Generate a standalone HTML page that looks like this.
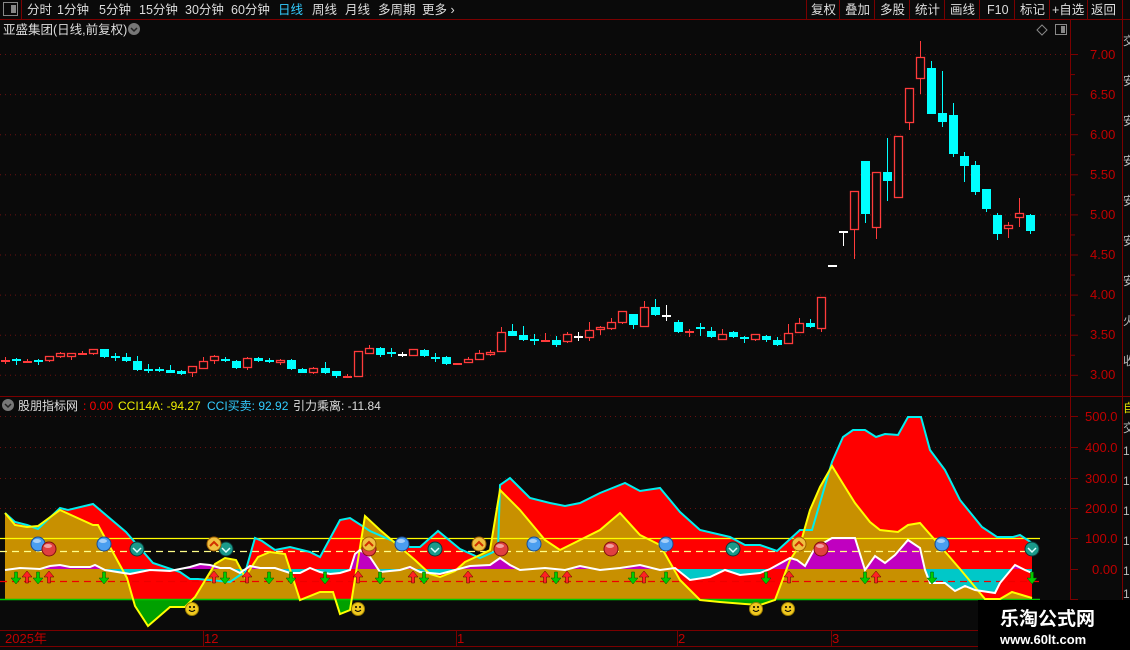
<!DOCTYPE html>
<html><head><meta charset="utf-8"><style>
body{margin:0;background:#0a0a0a;width:1130px;height:650px;overflow:hidden;font-family:"Liberation Sans","Noto Sans CJK SC",sans-serif;}
svg{position:absolute;left:0;top:0}
text{font-family:"Liberation Sans","Noto Sans CJK SC",sans-serif;}
</style></head><body>
<svg id="s" width="1130" height="650" xmlns="http://www.w3.org/2000/svg">
<rect width="1130" height="650" fill="#0a0a0a"/>
<!-- toolbar -->
<line x1="0" y1="19.5" x2="1130" y2="19.5" stroke="#7a0000"/>
<rect x="3.5" y="2.5" width="14" height="13" fill="none" stroke="#888"/>
<rect x="11" y="5" width="5" height="8" fill="#888"/>
<line x1="21.5" y1="0" x2="21.5" y2="19" stroke="#7a0000"/>
<g font-size="12.5" fill="#ddd">
<text x="27" y="14">分时</text><text x="57" y="14">1分钟</text><text x="99" y="14">5分钟</text><text x="139" y="14">15分钟</text><text x="185" y="14">30分钟</text><text x="231" y="14">60分钟</text><text x="278" y="14" fill="#3cf">日线</text><text x="312" y="14">周线</text><text x="345" y="14">月线</text><text x="378" y="14">多周期</text><text x="422" y="14">更多 ›</text>
<text x="811" y="14">复权</text><text x="845" y="14">叠加</text><text x="880" y="14">多股</text><text x="915" y="14">统计</text><text x="950" y="14">画线</text><text x="987" y="14">F10</text><text x="1020" y="14">标记</text><text x="1052" y="14">+自选</text><text x="1091" y="14">返回</text>
</g>
<g stroke="#7a0000"><line x1="806.5" y1="0" x2="806.5" y2="19"/><line x1="839.5" y1="0" x2="839.5" y2="19"/><line x1="874.5" y1="0" x2="874.5" y2="19"/><line x1="909.5" y1="0" x2="909.5" y2="19"/><line x1="944.5" y1="0" x2="944.5" y2="19"/><line x1="979.5" y1="0" x2="979.5" y2="19"/><line x1="1014.5" y1="0" x2="1014.5" y2="19"/><line x1="1049.5" y1="0" x2="1049.5" y2="19"/><line x1="1087.5" y1="0" x2="1087.5" y2="19"/><line x1="1122.5" y1="0" x2="1122.5" y2="19"/></g>
<text x="3" y="34" font-size="12.5" fill="#ddd">亚盛集团(日线,前复权)</text>
<circle cx="134" cy="29" r="6" fill="#777"/><path d="M131 28l3 3 3-3" stroke="#222" fill="none" stroke-width="1.5"/>
<path d="M1042 25l5 5-5 5-5-5z" fill="none" stroke="#888"/>
<rect x="1055.5" y="24.5" width="11" height="10" fill="none" stroke="#888"/><rect x="1061" y="26" width="4" height="7" fill="#888"/>
<!-- axes -->
<line x1="1070.5" y1="20" x2="1070.5" y2="630" stroke="#7a0000"/>
<line x1="1122.5" y1="20" x2="1122.5" y2="650" stroke="#7a0000"/>
<line x1="0" y1="396.5" x2="1130" y2="396.5" stroke="#7a0000"/>
<line x1="0" y1="630.5" x2="1070" y2="630.5" stroke="#7a0000"/>
<line x1="0" y1="646.5" x2="1070" y2="646.5" stroke="#7a0000"/>
<g id="grid" stroke="#6a1010" stroke-dasharray="1,4"></g>
<g font-size="13" fill="#c00000">
<text x="1090" y="59">7.00</text><text x="1090" y="99">6.50</text><text x="1090" y="139">6.00</text><text x="1090" y="179">5.50</text><text x="1090" y="219">5.00</text><text x="1090" y="259">4.50</text><text x="1090" y="299">4.00</text><text x="1090" y="339">3.50</text><text x="1090" y="379">3.00</text>
<text x="1085" y="421">500.0</text><text x="1085" y="452">400.0</text><text x="1085" y="483">300.0</text><text x="1085" y="513">200.0</text><text x="1085" y="543">100.0</text><text x="1092" y="574">0.00</text>
</g>
<g id="ticks" stroke="#7a0000"></g>
<g font-size="12" fill="#bbb"><text x="1123" y="45">交</text><text x="1123" y="85">安</text><text x="1123" y="125">安</text><text x="1123" y="165">安</text><text x="1123" y="205">安</text><text x="1123" y="245">安</text><text x="1123" y="285">安</text><text x="1123" y="325">火</text><text x="1123" y="365">收</text>
<text x="1123" y="412" fill="#dd0">自</text><text x="1123" y="432">交</text><text x="1123" y="455">1</text><text x="1123" y="485">1</text><text x="1123" y="515">1</text><text x="1123" y="545">1</text><text x="1123" y="575">1</text><text x="1123" y="598">1</text></g>
<g id="candles"></g>
<!-- indicator legend -->
<circle cx="8" cy="405" r="6" fill="#777"/><path d="M5 404l3 3 3-3" stroke="#222" fill="none" stroke-width="1.5"/>
<g font-size="12"><text x="18" y="410" fill="#ddd">股朋指标网</text><text x="83" y="410" fill="#f00">: 0.00</text><text x="118" y="410" fill="#ee0">CCI14A: -94.27</text><text x="207" y="410" fill="#3cf">CCI买卖: 92.92</text><text x="293" y="410" fill="#ddd">引力乘离: -11.84</text></g>
<defs>
<clipPath id="above"><rect x="0" y="0" width="1130" height="599"/></clipPath>
<clipPath id="below"><rect x="0" y="599" width="1130" height="40"/></clipPath>
<clipPath id="a0"><rect x="0" y="0" width="1130" height="569"/></clipPath>
<clipPath id="b0"><rect x="0" y="569" width="1130" height="60"/></clipPath>
</defs>
<g id="ind"></g>
<!-- x axis -->
<g font-size="13" fill="#c00000"><text x="5" y="643">2025年</text><text x="204" y="643">12</text><text x="457" y="643">1</text><text x="678" y="643">2</text><text x="832" y="643">3</text></g>
<g stroke="#7a0000"><line x1="203.5" y1="630" x2="203.5" y2="646"/><line x1="456.5" y1="630" x2="456.5" y2="646"/><line x1="677.5" y1="630" x2="677.5" y2="646"/><line x1="831.5" y1="630" x2="831.5" y2="646"/></g>
<!-- watermark -->
<rect x="978" y="600" width="152" height="50" fill="#000"/>
<text x="1000" y="625" font-size="19" font-weight="bold" fill="#fff" font-family="'Noto Serif CJK SC',serif">乐淘公式网</text>
<text x="1000" y="644" font-size="13" font-weight="bold" fill="#fff" font-family="'Liberation Serif',serif">www.60lt.com</text>
</svg>
<script>
const NS="http://www.w3.org/2000/svg";
function el(p,t,a){const e=document.createElementNS(NS,t);for(const k in a)e.setAttribute(k,a[k]);p.appendChild(e);return e;}
const g=document.getElementById('grid');
for(let i=0;i<9;i++){const y=54.5+i*40.1;el(g,'line',{x1:0,y1:y,x2:1070,y2:y});}
[416,447,478,508].forEach(y=>el(g,'line',{x1:0,y1:y+.5,x2:1070,y2:y+.5}));
const tk=document.getElementById('ticks');
for(let i=0;i<17;i++){const y=54.5+i*20.05;el(tk,'line',{x1:1070,y1:y,x2:(i%2?1075:1078),y2:y});}
[416,447,478,508,538,569,599].forEach(y=>el(tk,'line',{x1:1070,y1:y+.5,x2:1078,y2:y+.5}));
const C=[[5,360,360,357,363,'r'],[16,359,359,358,364,'c'],[27,361,361,359,362,'r'],[38,360,360,359,364,'c'],[49,356,360,356,361,'r'],[60,353,356,352,357,'r'],[71,353,356,353,359,'r'],[82,353,354,351,354,'r'],[93,349,353,349,354,'r'],[104,349,356,349,357,'c'],[115,356,356,353,360,'c'],[126,357,360,353,361,'c'],[137,361,369,356,370,'c'],[148,369,369,364,372,'c'],[159,369,369,367,371,'c'],[170,370,372,365,372,'c'],[181,371,373,370,374,'c'],[192,366,372,366,376,'r'],[203,361,368,357,368,'r'],[214,356,360,355,363,'r'],[225,359,359,357,361,'c'],[236,361,367,360,368,'c'],[247,358,367,357,369,'r'],[258,358,360,357,361,'c'],[269,360,360,358,362,'c'],[280,360,362,359,364,'r'],[291,360,368,359,369,'c'],[302,369,372,368,372,'c'],[313,368,372,367,373,'r'],[325,368,372,362,373,'c'],[336,371,375,371,377,'c'],[347,376,377,374,377,'r'],[358,351,376,351,376,'r'],[369,348,353,345,353,'r'],[380,348,354,347,356,'c'],[391,352,352,348,356,'c'],[402,354,354,352,356,'w'],[413,349,355,349,355,'r'],[424,350,355,349,356,'c'],[435,357,357,353,361,'c'],[446,357,363,356,364,'c'],[457,363,364,363,364,'r'],[468,359,362,357,362,'r'],[479,353,359,350,359,'r'],[490,352,354,350,355,'r'],[501,332,351,327,351,'r'],[512,331,335,324,335,'c'],[523,335,339,326,340,'c'],[534,339,339,334,344,'c'],[545,340,341,333,341,'r'],[556,340,344,336,346,'c'],[567,334,341,332,342,'r'],[578,336,336,332,340,'w'],[589,330,337,322,340,'r'],[600,327,329,326,334,'r'],[611,322,328,318,329,'r'],[622,311,322,311,323,'r'],[633,314,324,314,328,'c'],[644,307,326,301,326,'r'],[655,307,314,299,315,'c'],[666,315,315,305,320,'w'],[678,322,331,320,332,'c'],[689,331,331,329,336,'r'],[700,327,327,323,335,'c'],[711,331,336,327,337,'c'],[722,334,339,329,339,'r'],[733,332,336,331,337,'c'],[744,337,337,336,342,'c'],[755,334,339,334,340,'r'],[766,336,339,335,341,'c'],[777,340,344,337,345,'c'],[788,333,343,324,343,'r'],[799,323,332,318,332,'r'],[810,323,326,319,327,'c'],[821,297,328,297,331,'r'],[832,265,265,265,265,'w'],[843,231,231,231,245,'w'],[854,191,229,191,258,'r'],[865,161,213,161,222,'c'],[876,172,227,172,238,'r'],[887,172,180,138,200,'c'],[898,136,197,136,197,'r'],[909,88,122,88,129,'r'],[920,57,78,41,93,'r'],[931,68,113,61,113,'c'],[942,113,121,71,126,'c'],[953,115,153,103,156,'c'],[964,156,165,152,181,'c'],[975,165,191,161,194,'c'],[986,189,208,189,211,'c'],[997,215,233,213,239,'c'],[1008,225,228,222,237,'r'],[1019,213,217,198,226,'r'],[1030,215,230,214,233,'c']];
const cg=document.getElementById('candles');
const col={r:'#ff3b3b',c:'#00ffff',w:'#ffffff'};
C.forEach(([x,t,b,wt,wb,k])=>{const c=col[k];
 el(cg,'line',{x1:x+.5,y1:wt,x2:x+.5,y2:wb+1,stroke:c});
 if(b-t<2){el(cg,'rect',{x:x-4,y:t,width:9,height:2,fill:c});}
 else if(k=='r'){el(cg,'rect',{x:x-3.5,y:t+.5,width:8,height:b-t,fill:'#0a0a0a',stroke:c,'stroke-width':1.3});}
 else el(cg,'rect',{x:x-4,y:t,width:9,height:b-t+1,fill:c});
});
const ind=document.getElementById('ind');
const cy=[[5,513],[15,522],[27,525],[38,529],[60,508],[68,510],[93,504],[126,532],[153,563],[180,572],[190,579],[198,579],[230,582],[240,575],[245,573],[255,538],[262,541],[275,550],[290,547],[310,552],[320,557],[340,520],[350,518],[370,531],[395,542],[410,547],[420,547],[438,531],[460,549],[480,558],[498,550],[500,485],[510,478],[520,488],[530,498],[550,503],[565,506],[580,503],[600,493],[625,483],[640,491],[660,488],[680,512],[700,530],[730,537],[745,545],[760,545],[777,551],[800,530],[812,530],[832,462],[843,437],[853,430],[865,430],[876,437],[885,434],[898,435],[908,417],[921,417],[930,450],[945,470],[960,500],[982,527],[997,537],[1013,537],[1020,535],[1032,543]];
const ye=[[5,513],[15,525],[27,527],[38,526],[60,510],[93,525],[98,525],[127,578],[135,606],[148,626],[170,607],[185,607],[195,597],[215,564],[225,558],[236,560],[245,577],[258,557],[270,552],[285,554],[300,600],[320,592],[333,592],[340,614],[350,610],[365,516],[380,530],[415,560],[430,574],[440,577],[455,571],[465,562],[480,555],[490,550],[500,490],[520,510],[545,540],[560,550],[580,540],[600,530],[620,513],[640,535],[660,545],[680,580],[700,600],[720,602],[745,604],[760,605],[775,600],[790,560],[800,545],[810,510],[820,487],[832,466],[845,487],[855,503],[870,522],[880,530],[898,532],[908,525],[920,523],[935,540],[960,569],[985,599],[1000,599],[1012,592],[1032,598]];
const wh=[[5,570],[20,568],[40,569],[50,566],[60,565],[70,567],[90,567],[95,565],[105,570],[130,574],[140,572],[150,570],[170,571],[180,569],[190,567],[200,564],[210,565],[220,568],[230,568],[240,573],[250,566],[260,568],[275,568],[290,573],[300,573],[310,568],[320,572],[330,574],[340,573],[350,570],[355,554],[360,550],[370,557],[380,572],[400,570],[410,567],[420,572],[440,574],[470,566],[490,565],[500,558],[510,565],[520,570],[545,568],[565,570],[580,566],[600,570],[620,568],[640,565],[660,570],[675,568],[690,580],[710,577],[725,570],[740,575],[760,573],[770,569],[790,558],[797,560],[805,566],[815,548],[832,538],[855,538],[865,570],[875,556],[885,563],[895,555],[908,540],[920,548],[925,570],[930,583],[945,583],[955,591],[965,586],[975,590],[995,593],[1000,583],[1015,565],[1025,570],[1032,573]];
const P=a=>a.map(p=>p.join(',')).join(' ');
const area=(a,base)=>P(a)+' '+a[a.length-1][0]+','+base+' '+a[0][0]+','+base;
el(ind,'polygon',{points:area(cy,599),fill:'#f00'});
el(ind,'polygon',{points:area(ye,599),fill:'#c89000','clip-path':'url(#above)'});
el(ind,'polygon',{points:area(ye,599),fill:'#00a000','clip-path':'url(#below)'});
el(ind,'polygon',{points:area(wh,569),fill:'#c000c0','clip-path':'url(#a0)'});
el(ind,'polygon',{points:area(wh,569),fill:'#00c8c8','clip-path':'url(#b0)'});
el(ind,'line',{x1:0,y1:538.5,x2:1040,y2:538.5,stroke:'#ff0','stroke-width':1.3});
el(ind,'line',{x1:0,y1:551.5,x2:1040,y2:551.5,stroke:'#ff8','stroke-width':1.2,'stroke-dasharray':'7,5'});
el(ind,'line',{x1:0,y1:581.5,x2:1040,y2:581.5,stroke:'#e00','stroke-width':1.2,'stroke-dasharray':'7,5'});
el(ind,'line',{x1:0,y1:599.5,x2:1040,y2:599.5,stroke:'#0c0','stroke-width':1.5});
el(ind,'polyline',{points:P(cy),fill:'none',stroke:'#0ee','stroke-width':2});
el(ind,'polyline',{points:P(ye),fill:'none',stroke:'#ff0','stroke-width':2});
el(ind,'polyline',{points:P(wh),fill:'none',stroke:'#fff','stroke-width':2});
[16,38,104,225,269,291,325,380,424,556,633,666,766,865,932,1032].forEach(x=>el(ind,'path',{d:`M${x-1.5} 572h3v6h3.5l-5 6-5-6h3.5z`,fill:'#0c0',stroke:'#050','stroke-width':.5}));
[27,49,214,247,358,413,468,545,567,644,789,876].forEach(x=>el(ind,'path',{d:`M${x} 571l5 6h-3.5v6h-3v-6h-3.5z`,fill:'#f22',stroke:'#500','stroke-width':.5}));
const ball=(x,y,c1,c2)=>{el(ind,'circle',{cx:x,cy:y,r:7,fill:c1,stroke:c2,'stroke-width':1});el(ind,'ellipse',{cx:x-1,cy:y-3,rx:4,ry:2,fill:'#fff',opacity:.5});};
[[38,544],[104,544],[402,544],[534,544],[666,544],[942,544]].forEach(p=>ball(p[0],p[1],'#4a9ef0','#1a4a90'));
[[49,549],[369,549],[501,549],[611,549],[821,549]].forEach(p=>ball(p[0],p[1],'#e04040','#801010'));
[[137,549],[226,549],[435,549],[733,549],[1032,549]].forEach(([x,y])=>{el(ind,'circle',{cx:x,cy:y,r:7,fill:'#1a9a8a',stroke:'#0a3a3a'});el(ind,'path',{d:`M${x-4} ${y-1}l4 4 4-4`,stroke:'#dff',fill:'none','stroke-width':1.5});});
[[214,544],[369,544],[479,544],[799,544]].forEach(([x,y])=>{el(ind,'circle',{cx:x,cy:y,r:7,fill:'#f0c040',stroke:'#a06000'});el(ind,'path',{d:`M${x-4} ${y+2}l4-4 4 4`,stroke:'#d03000',fill:'none','stroke-width':2});});
[192,358,756,788].forEach(x=>{const y=609;el(ind,'circle',{cx:x,cy:y,r:6.5,fill:'#f0c820',stroke:'#a08000'});el(ind,'circle',{cx:x-2,cy:y-2,r:1,fill:'#000'});el(ind,'circle',{cx:x+2,cy:y-2,r:1,fill:'#000'});el(ind,'path',{d:`M${x-3} ${y+1}q3 3 6 0`,stroke:'#000',fill:'none'});});
</script>
</body></html>
